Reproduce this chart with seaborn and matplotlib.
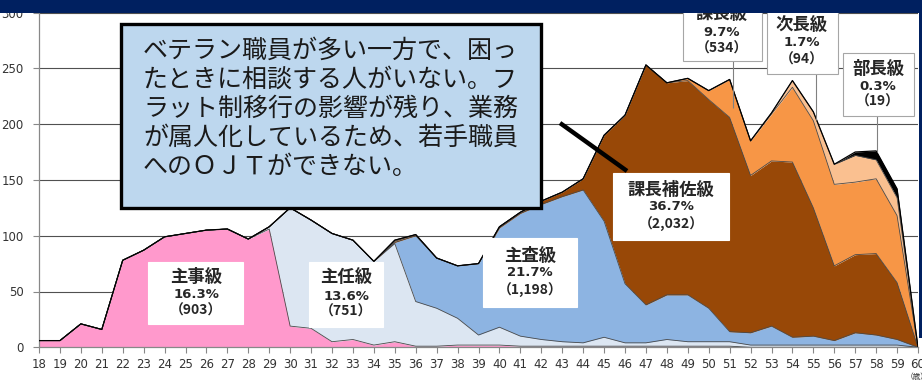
import matplotlib
matplotlib.use("Agg")
import matplotlib.pyplot as plt
import seaborn as sns
import pandas as pd
from matplotlib.patches import Rectangle
from matplotlib.lines import Line2D

# ---------------- data ----------------
ages = list(range(18, 61))
shuji = [6, 6, 21, 16, 78, 87, 99, 102, 105, 106,
         97, 106, 19, 17, 5, 7, 2, 5, 1, 1,
         2, 2, 2, 1, 1, 1, 1, 1, 1, 1,
         1, 1, 1, 1, 0, 0, 0, 0, 0, 0,
         0, 0, 0]
shunin = [0, 0, 0, 0, 0, 0, 0, 0, 0, 0,
          0, 2, 106, 97, 97, 89, 75, 88, 40, 34,
          24, 9, 16, 9, 6, 4, 3, 8, 3, 3,
          6, 4, 4, 4, 2, 2, 2, 2, 2, 2,
          2, 2, 0]
shusa = [0, 0, 0, 0, 0, 0, 0, 0, 0, 0,
         0, 0, 0, 0, 0, 0, 0, 1, 59, 45,
         47, 64, 89, 110, 121, 130, 137, 104, 53, 34,
         40, 42, 30, 9, 11, 17, 7, 8, 4, 11,
         9, 5, 0]
kachohosa = [0, 0, 0, 0, 0, 0, 0, 0, 0, 0,
             0, 0, 0, 0, 0, 0, 0, 1, 1, 0,
             0, 0, 1, 1, 3, 4, 10, 77, 151, 215,
             190, 192, 187, 192, 141, 148, 157, 115, 67, 70,
             73, 51, 0]
kacho = [0, 0, 0, 0, 0, 0, 0, 0, 0, 0,
         0, 0, 0, 0, 0, 0, 0, 1, 0, 0,
         0, 0, 0, 0, 0, 0, 0, 0, 0, 0,
         0, 2, 8, 34, 31, 42, 67, 78, 73, 65,
         67, 60, 0]
jicho = [0, 0, 0, 0, 0, 0, 0, 0, 0, 0,
         0, 0, 0, 0, 0, 0, 0, 0, 0, 0,
         0, 0, 0, 0, 0, 0, 0, 0, 0, 0,
         0, 0, 0, 0, 0, 1, 6, 8, 18, 24,
         17, 16, 0]
bucho = [0, 0, 0, 0, 0, 0, 0, 0, 0, 0,
         0, 0, 0, 0, 0, 0, 0, 0, 0, 0,
         0, 0, 0, 0, 0, 0, 0, 0, 0, 0,
         0, 0, 0, 0, 0, 0, 0, 0, 0, 3,
         8, 8, 0]

series_names = ["主事級", "主任級", "主査級", "課長補佐級", "課長級", "次長級", "部長級"]
series_pct = ["16.3%", "13.6%", "21.7%", "36.7%", "9.7%", "1.7%", "0.3%"]
series_cnt = ["（903）", "（751）", "（1,198）", "（2,032）", "（534）", "（94）", "（19）"]
colors = ["#FF99CC", "#DCE6F2", "#8DB4E2", "#984807", "#F79646", "#FAC090", "#000000"]
yticks = [0, 50, 100, 150, 200, 250, 300]
callout_lines = ["ベテラン職員が多い一方で、困っ",
                 "たときに相談する人がいない。フ",
                 "ラット制移行の影響が残り、業務",
                 "が属人化しているため、若手職員",
                 "へのＯＪＴができない。"]
unit_label = "（歳）"

# ---------------- style ----------------
sns.set_theme(style="white")
plt.rcParams['font.family'] = ['DejaVu Sans', 'Noto Sans CJK JP']

W, H = 922, 381
fig = plt.figure(figsize=(W / 100, H / 100), dpi=100)
fig.patch.set_facecolor("white")
X0, X1, Y0, YT = 39, 918, 347.3, 12.5
ax = fig.add_axes([X0 / W, 1 - Y0 / H, (X1 - X0) / W, (Y0 - YT) / H])
ax.set_facecolor("white")

def F(px, py):
    return (px / W, 1 - py / H)

df = pd.DataFrame({"age": ages, "主事級": shuji, "主任級": shunin, "主査級": shusa,
                   "課長補佐級": kachohosa, "課長級": kacho, "次長級": jicho, "部長級": bucho})
cum = df[series_names].cumsum(axis=1)

for i, name in enumerate(series_names):
    lower = cum[series_names[i - 1]] if i > 0 else cum[name] * 0
    ax.fill_between(df["age"], lower, cum[name], color=colors[i], lw=0, zorder=2)
for i, name in enumerate(series_names):
    top = (i == len(series_names) - 1)
    sns.lineplot(x=df["age"], y=cum[name], ax=ax, color="#000000" if top else "#4a4a4a",
                 lw=0.9 if top else 0.6, zorder=3, legend=False)

ax.set_xlim(18, 60)
ax.set_ylim(0, 300)
ax.set_xticks(ages)
ax.set_xticklabels([str(a) for a in ages])
ax.set_yticks(yticks)
ax.set_axisbelow(True)
ax.yaxis.grid(True, color="#505050", lw=0.8)
ax.xaxis.grid(False)
ax.set_xlabel("")
ax.set_ylabel("")
for s in ["top", "right"]:
    ax.spines[s].set_visible(False)
for s in ["left", "bottom"]:
    ax.spines[s].set_color("#888888")
    ax.spines[s].set_linewidth(0.9)
ax.tick_params(axis="y", left=True, length=4, width=0.8, color="#888888", pad=7,
               labelsize=8.5, labelcolor="#333333")
ax.tick_params(axis="x", bottom=True, length=4, width=0.8, color="#888888", pad=4,
               labelsize=8.5, labelcolor="#333333")

# ---------------- annotations ----------------
def box(x0, y0, x1, y1, fc="white", ec="#a6a6a6", lw=0.8, z=5):
    fig.add_artist(Rectangle(F(x0, y1), (x1 - x0) / W, (y1 - y0) / H, transform=fig.transFigure,
                             fc=fc, ec=ec, lw=lw, zorder=z))

def line(xa, ya, xb, yb, color="#808080", lw=0.8, z=5):
    fig.add_artist(Line2D([xa / W, xb / W], [1 - ya / H, 1 - yb / H], transform=fig.transFigure,
                          color=color, lw=lw, zorder=z, solid_capstyle="butt"))

# leader lines
line(733, 61, 733, 108)
line(816, 74, 816, 120)
line(877, 116, 877, 152)

# label boxes: (x0, y0, x1, y1, cx, y_name, y_pct, y_cnt, edge)
labels = [
    (148, 262, 243, 324, 196, 277, 294, 311, "white"),
    (309, 262, 383, 327, 346, 278, 296, 312, "white"),
    (483, 238, 577, 307, 530, 256, 273, 290, "white"),
    (613, 173, 729, 240, 671, 190, 207, 224, "white"),
    (683, 5, 762, 61, 722, 15, 32, 49, "#a6a6a6"),
    (767, 8, 838, 74, 802, 26, 43, 60, "#a6a6a6"),
    (843, 53, 914, 116, 878, 69, 86, 102, "#a6a6a6"),
]
for i, (x0, y0, x1, y1, cx, yn, yp, yc, ec) in enumerate(labels):
    box(x0, y0, x1, y1, ec=ec)
    fig.text(*F(cx, yn), series_names[i], ha="center", va="center", fontsize=12.5,
             fontweight="bold", color="#262626", zorder=6, family=["Noto Sans CJK JP"])
    fig.text(*F(cx, yp), series_pct[i], ha="center", va="center", fontsize=9.5,
             fontweight="bold", color="#262626", zorder=6)
    fig.text(*F(cx, yc), series_cnt[i], ha="center", va="center", fontsize=10,
             fontweight="bold", color="#262626", zorder=6, family=["Noto Sans CJK JP"])

# callout
line(560, 123, 627, 171, color="#000000", lw=3.2, z=7)
box(121, 24, 541, 208, fc="#BDD7EE", ec="#000000", lw=2.4, z=7)
for i, t in enumerate(callout_lines):
    fig.text(*F(143, 51 + 29 * i), t, ha="left", va="center", fontsize=18,
             color="#1a1a1a", zorder=8, family=["Noto Sans CJK JP"])

fig.text(*F(906, 377), unit_label, ha="left", va="center", fontsize=5.5, color="#333333",
         zorder=6, family=["Noto Sans CJK JP"])

# banner and right strip
fig.add_artist(Rectangle((0, 1 - 12.5 / H), 1, 12.5 / H, transform=fig.transFigure,
                         fc="#002060", ec="none", zorder=20))
fig.add_artist(Rectangle(F(918.5, 338), 3.5 / W, 338 / H, transform=fig.transFigure,
                         fc="#002060", ec="none", zorder=20))

fig.savefig("out.png", dpi=100, facecolor="white")
